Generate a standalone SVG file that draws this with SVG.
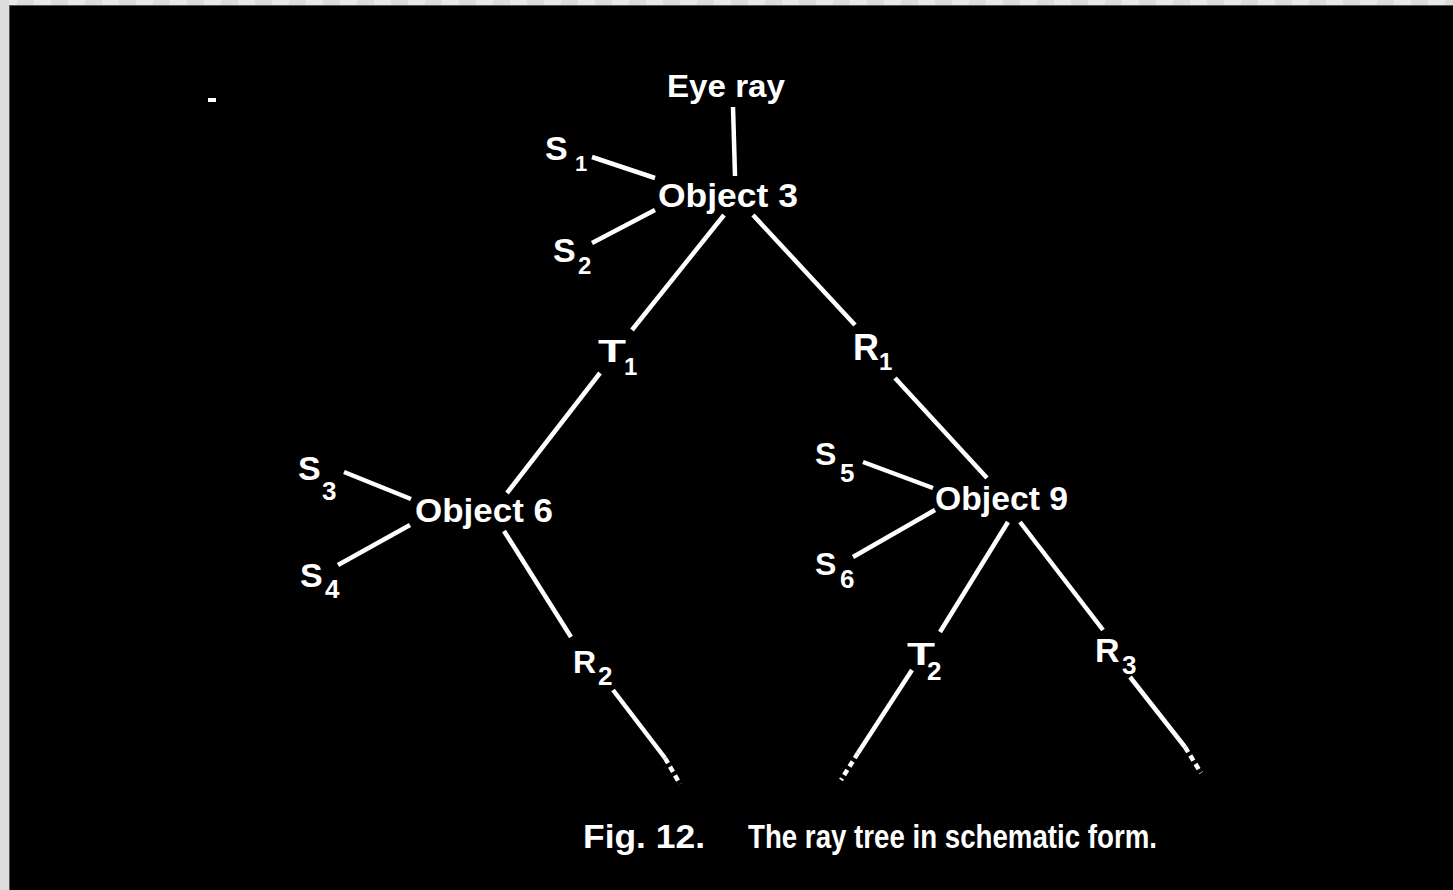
<svg xmlns="http://www.w3.org/2000/svg" width="1453" height="890" viewBox="0 0 1453 890">
<defs>
<style>
.t{font-family:"Liberation Sans",Arial,sans-serif;font-weight:bold;fill:#fff}
.c line,.c path{stroke:#fff;stroke-width:4.5;fill:none;stroke-linecap:butt}
.c .d{stroke-dasharray:6 4}
</style>
<pattern id="chk" x="0" y="0" width="34" height="6" patternUnits="userSpaceOnUse">
<rect x="0" y="0" width="17" height="6" fill="#e8e8e8"/>
<rect x="17" y="0" width="17" height="6" fill="#dcdcdc"/>
</pattern>
</defs>
<rect x="0" y="0" width="1453" height="890" fill="#000"/>
<rect x="0" y="0" width="1453" height="5" fill="url(#chk)"/>
<rect x="0" y="0" width="9" height="890" fill="#dcdcdc"/>
<rect x="9" y="5" width="1444" height="1" fill="#555"/>
<rect x="9" y="5" width="1" height="885" fill="#555"/>
<rect x="208" y="98" width="8" height="4" fill="#fff"/>

<g class="c" id="connectors">
<line x1="733" y1="107" x2="735" y2="176"/>
<line x1="592" y1="157" x2="655" y2="178"/>
<line x1="592" y1="243" x2="655" y2="210"/>
<line x1="724" y1="215" x2="632" y2="330"/>
<line x1="753" y1="215" x2="855" y2="325"/>
<line x1="600" y1="373" x2="507" y2="493"/>
<line x1="895" y1="378" x2="987" y2="478"/>
<line x1="344" y1="472" x2="411" y2="499"/>
<line x1="338" y1="565" x2="410" y2="525"/>
<line x1="504" y1="531" x2="571" y2="637"/>
<line x1="613" y1="690" x2="665" y2="758"/>
<line class="d" x1="665" y1="758" x2="680" y2="784"/>
<line x1="863" y1="462" x2="933" y2="488"/>
<line x1="853" y1="557" x2="935" y2="510"/>
<line x1="1008" y1="522" x2="940" y2="632"/>
<line x1="1020" y1="522" x2="1103" y2="630"/>
<line x1="912" y1="670" x2="858" y2="753"/>
<line class="d" x1="858" y1="753" x2="841" y2="780"/>
<line x1="1130" y1="677" x2="1185" y2="747"/>
<line class="d" x1="1185" y1="747" x2="1201" y2="773"/>
</g>

<g id="eye-ray"><text class="t" x="667" y="97" font-size="31" textLength="118" lengthAdjust="spacingAndGlyphs">Eye ray</text></g>
<g id="object3"><text class="t" x="658" y="207" font-size="34" textLength="140" lengthAdjust="spacingAndGlyphs">Object 3</text></g>
<g id="s1"><text class="t" x="545" y="160" font-size="34">S</text><text class="t" x="575" y="171" font-size="22">1</text></g>
<g id="s2"><text class="t" x="553" y="262" font-size="34">S</text><text class="t" x="578" y="274" font-size="24">2</text></g>
<g id="t1"><text class="t" x="598" y="362" font-size="31" textLength="28" lengthAdjust="spacingAndGlyphs">T</text><text class="t" x="624" y="375" font-size="24">1</text></g>
<g id="r1"><text class="t" x="853" y="360" font-size="36">R</text><text class="t" x="879" y="370" font-size="24">1</text></g>
<g id="object6"><text class="t" x="415" y="522" font-size="34" textLength="138" lengthAdjust="spacingAndGlyphs">Object 6</text></g>
<g id="s3"><text class="t" x="298" y="480" font-size="34">S</text><text class="t" x="322" y="500" font-size="26">3</text></g>
<g id="s4"><text class="t" x="300" y="587" font-size="34">S</text><text class="t" x="325" y="598" font-size="26">4</text></g>
<g id="r2"><text class="t" x="573" y="673" font-size="32">R</text><text class="t" x="598" y="685" font-size="26">2</text></g>
<g id="object9"><text class="t" x="935" y="510" font-size="33" textLength="133" lengthAdjust="spacingAndGlyphs">Object 9</text></g>
<g id="s5"><text class="t" x="815" y="465" font-size="32">S</text><text class="t" x="840" y="482" font-size="26">5</text></g>
<g id="s6"><text class="t" x="815" y="575" font-size="32">S</text><text class="t" x="840" y="588" font-size="26">6</text></g>
<g id="t2"><text class="t" x="907" y="665" font-size="32" textLength="28" lengthAdjust="spacingAndGlyphs">T</text><text class="t" x="927" y="680" font-size="26">2</text></g>
<g id="r3"><text class="t" x="1095" y="662" font-size="34">R</text><text class="t" x="1122" y="674" font-size="26">3</text></g>

<g id="caption">
<text class="t" x="583" y="848" font-size="34" textLength="122" lengthAdjust="spacingAndGlyphs">Fig. 12.</text>
<text class="t" x="748" y="848" font-size="34" textLength="409" lengthAdjust="spacingAndGlyphs">The ray tree in schematic form.</text>
</g>
</svg>
